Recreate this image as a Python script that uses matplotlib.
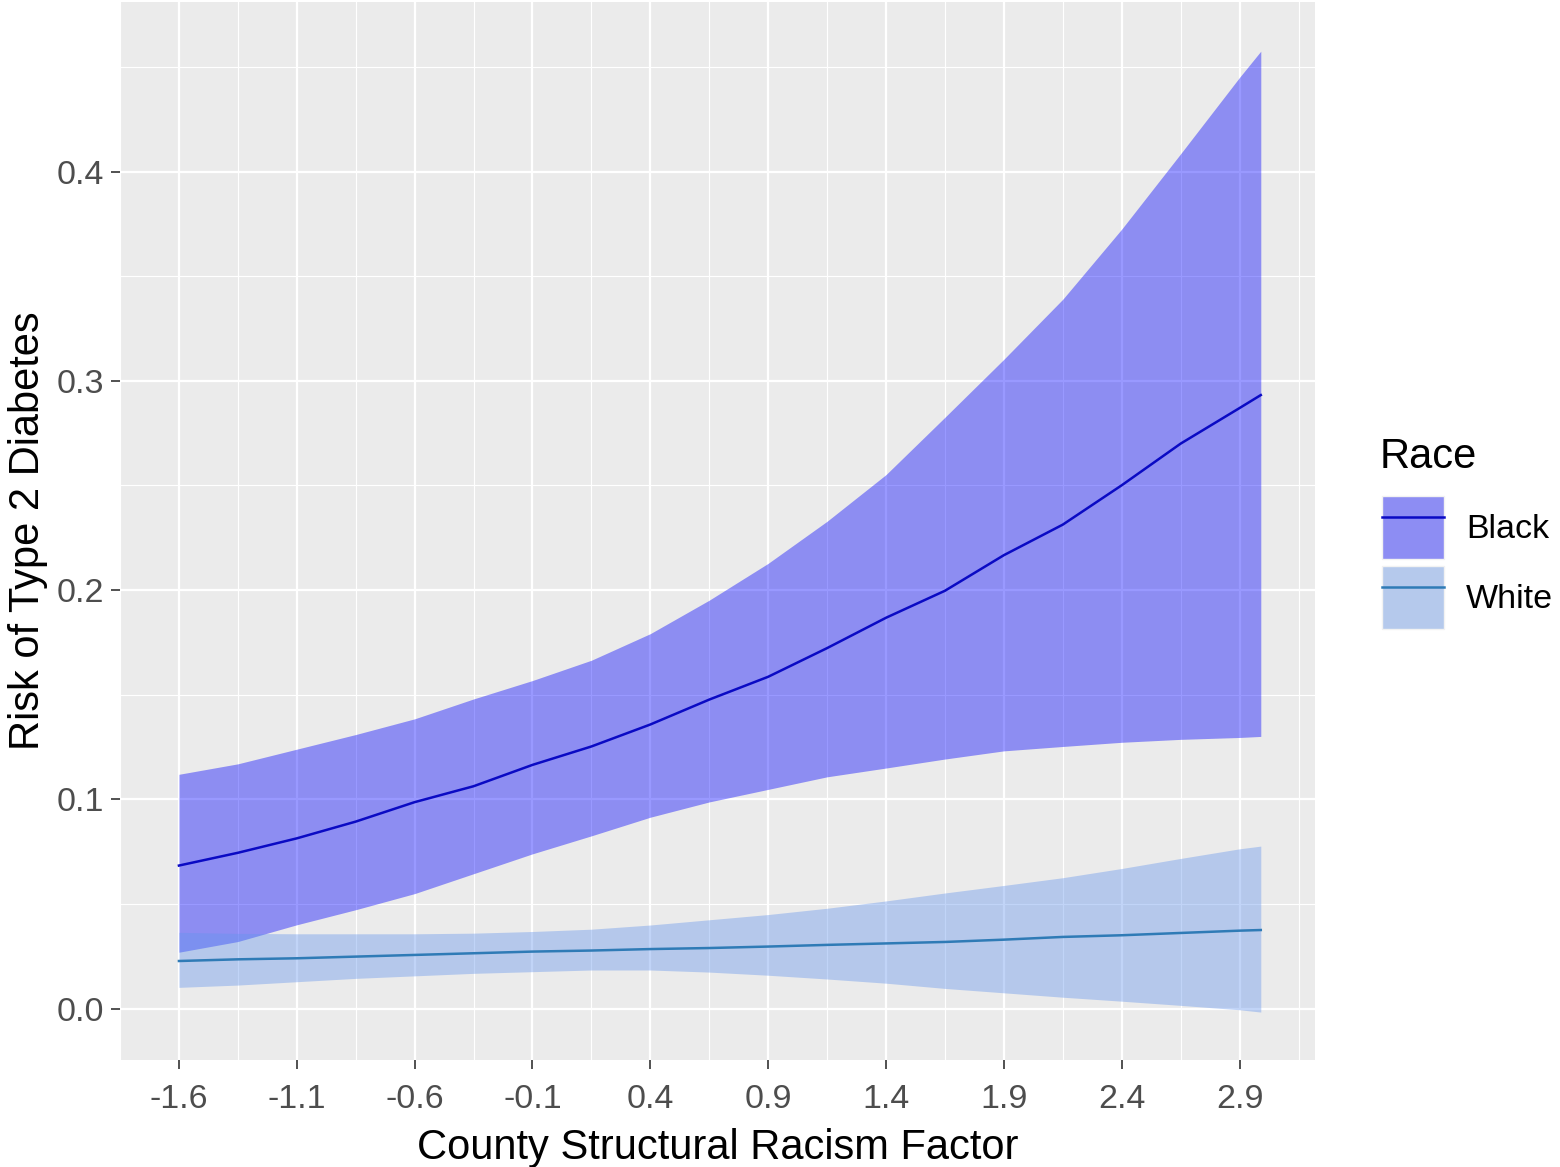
import numpy as np
import matplotlib
matplotlib.use("Agg")
import matplotlib.pyplot as plt
from matplotlib.patches import Patch
from matplotlib.lines import Line2D

plt.rcParams['font.family'] = ['Liberation Sans', 'DejaVu Sans']

# predicted risk by structural racism factor
x = [-1.6, -1.35, -1.1, -0.85, -0.6, -0.35, -0.1, 0.15, 0.4, 0.65,
     0.9, 1.15, 1.4, 1.65, 1.9, 2.15, 2.4, 2.65, 2.9, 2.99]

black_hi = [0.112, 0.117, 0.124, 0.131, 0.1385, 0.148, 0.1568, 0.1665, 0.1792, 0.1952,
            0.2128, 0.2329, 0.2552, 0.2826, 0.3103, 0.339, 0.3725, 0.4085, 0.445, 0.4575]
black_mid = [0.0684, 0.0745, 0.0814, 0.0894, 0.0987, 0.1063, 0.1165, 0.1253, 0.1358, 0.1477,
             0.1586, 0.1723, 0.1868, 0.1997, 0.2167, 0.2313, 0.2501, 0.270, 0.287, 0.2932]
black_lo = [0.027, 0.0321, 0.0401, 0.0473, 0.055, 0.0645, 0.074, 0.0826, 0.0915, 0.0988,
            0.1048, 0.1108, 0.115, 0.1193, 0.1232, 0.1253, 0.1273, 0.1287, 0.1296, 0.1301]

white_hi = [0.0365, 0.036, 0.0358, 0.0358, 0.0358, 0.0361, 0.0369, 0.038, 0.040, 0.0425,
            0.045, 0.048, 0.0515, 0.0553, 0.0589, 0.0626, 0.067, 0.0718, 0.0764, 0.0777]
white_mid = [0.0228, 0.0236, 0.0241, 0.0249, 0.0257, 0.0265, 0.0273, 0.0278, 0.0285, 0.029,
             0.0297, 0.0305, 0.0312, 0.0319, 0.033, 0.0343, 0.0351, 0.0362, 0.0373, 0.0376]
white_lo = [0.0102, 0.0113, 0.0129, 0.0145, 0.0157, 0.0169, 0.0177, 0.0185, 0.0185, 0.0175,
            0.016, 0.0142, 0.0122, 0.0097, 0.0076, 0.0055, 0.0036, 0.0016, -0.0005, -0.0016]

x_ticks = [-1.6, -1.1, -0.6, -0.1, 0.4, 0.9, 1.4, 1.9, 2.4, 2.9]
y_ticks = [0.0, 0.1, 0.2, 0.3, 0.4]

fig = plt.figure(figsize=(15.6, 11.67), dpi=100)
ax = fig.add_axes([120 / 1560, 1 - 1060 / 1167, 1195 / 1560, 1058 / 1167])
ax.set_facecolor('#EBEBEB')

# ribbons first, white group on top of black group
ax.fill_between(x, black_lo, black_hi, color='blue', alpha=0.4, lw=0, zorder=2)
ax.fill_between(x, white_lo, white_hi, color='cornflowerblue', alpha=0.4, lw=0, zorder=2)
ax.plot(x, black_mid, color='#0A0AC4', lw=1.8, zorder=3)
ax.plot(x, white_mid, color='#2F7BB6', lw=1.8, zorder=3)

ax.set_xlim(-1.83, 3.22)
ax.set_ylim(-0.0245, 0.481)
ax.set_xticks(x_ticks)
ax.set_xticklabels([f'{v:.1f}' for v in x_ticks])
ax.set_xticks([t + 0.25 for t in x_ticks] + [-1.85], minor=True)
ax.set_yticks(y_ticks)
ax.set_yticklabels([f'{v:.1f}' for v in y_ticks])
ax.set_yticks([0.05, 0.15, 0.25, 0.35, 0.45], minor=True)

ax.grid(which='major', color='white', lw=1.6, zorder=1)
ax.grid(which='minor', color='white', lw=0.8, zorder=1)
ax.set_axisbelow(True)
for s in ax.spines.values():
    s.set_visible(False)

ax.tick_params(which='major', length=6.5, width=1.2, color='#333333',
               labelsize=24.5, labelcolor='#4D4D4D')
ax.tick_params(axis='x', which='major', pad=11)
ax.tick_params(axis='y', which='major', pad=5)
ax.tick_params(which='minor', length=0)

ax.set_xlabel('County Structural Racism Factor', fontsize=30, labelpad=9)
ax.set_ylabel('Risk of Type 2 Diabetes', fontsize=30, labelpad=6)

# legend: title as plain text, keys below it
fig.text(1380 / 1560, 1 - 457 / 1167, 'Race', fontsize=30, ha='left', va='center')
handles = [
    (Patch(facecolor='#8D8DF3', edgecolor='#F2F2F2', lw=1.0),
     Line2D([], [], color='#0A0AC4', lw=1.8)),
    (Patch(facecolor='#B5C9EC', edgecolor='#F2F2F2', lw=1.0),
     Line2D([], [], color='#2F7BB6', lw=1.8)),
]
leg = fig.legend(handles, ['Black', 'White'],
                 loc='upper left', bbox_to_anchor=(1382 / 1560, 1 - 496 / 1167),
                 frameon=False, fontsize=24.5,
                 handlelength=1.82, handleheight=2.45, labelspacing=0.22,
                 handletextpad=0.65, borderpad=0, borderaxespad=0)

fig.savefig('out.png', dpi=100)
